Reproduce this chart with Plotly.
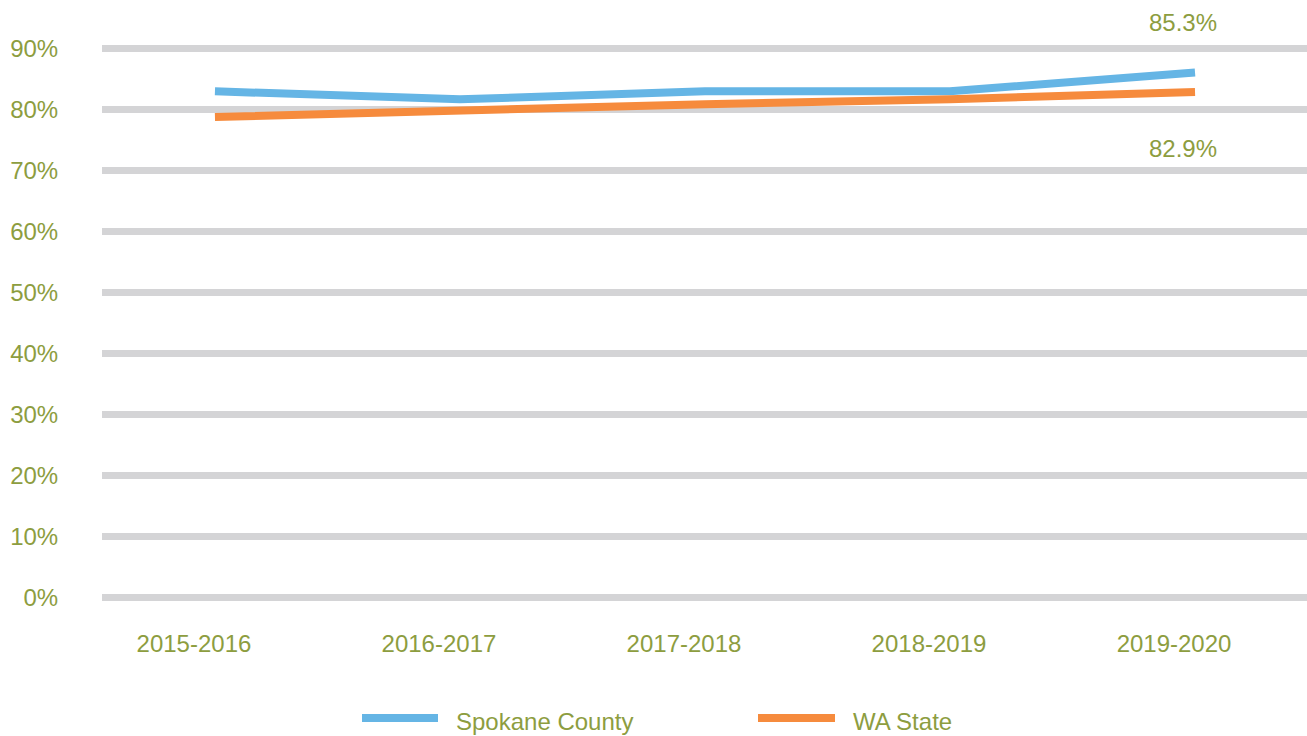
import plotly.graph_objects as go

years = ["2015-2016", "2016-2017", "2017-2018", "2018-2019", "2019-2020"]
spokane = [83.0, 81.7, 83.0, 83.0, 86.1]
wa_state = [78.8, 79.9, 80.9, 81.7, 82.9]
end_labels = ["85.3%", "82.9%"]
y_ticks = [0, 10, 20, 30, 40, 50, 60, 70, 80, 90]
y_tick_text = [f"{v}%" for v in y_ticks]

BLUE = "#65b5e5"
ORANGE = "#f68b3d"
OLIVE = "#8d9d3f"
GRID = "#d4d4d6"
FONT = "Arial, Liberation Sans, sans-serif"
FS = 24

xi = list(range(len(years)))

fig = go.Figure()
fig.add_trace(go.Scatter(x=xi, y=spokane, mode="lines", name="Spokane County",
                         line=dict(color=BLUE, width=8), showlegend=False))
fig.add_trace(go.Scatter(x=xi, y=wa_state, mode="lines", name="WA State",
                         line=dict(color=ORANGE, width=8), showlegend=False))

fig.add_annotation(x=xi[-1], y=spokane[-1], text=end_labels[0], showarrow=False,
                   yshift=50, xshift=-12, font=dict(size=FS, color=OLIVE, family=FONT))
fig.add_annotation(x=xi[-1], y=wa_state[-1], text=end_labels[1], showarrow=False,
                   yshift=-57, xshift=-12, font=dict(size=FS, color=OLIVE, family=FONT))

# manual legend
legend_items = [("Spokane County", BLUE, 362, 438, 454), ("WA State", ORANGE, 758, 835, 851)]
for name, col, x0, x1, tx in legend_items:
    fig.add_shape(type="line", xref="paper", yref="paper",
                  x0=(x0 - 102) / 1205, x1=(x1 - 102) / 1205,
                  y0=(610 - 718) / 590, y1=(610 - 718) / 590,
                  line=dict(color=col, width=8))
    fig.add_annotation(xref="paper", yref="paper", x=(tx - 102) / 1205, y=(610 - 721) / 590,
                       text=name, showarrow=False, xanchor="left", yanchor="middle",
                       font=dict(size=FS, color=OLIVE, family=FONT))

fig.update_layout(
    width=1307, height=736,
    margin=dict(l=102, r=0, t=20, b=126),
    paper_bgcolor="white", plot_bgcolor="white",
    font=dict(family=FONT, color=OLIVE, size=FS),
    hovermode=False,
)
fig.update_xaxes(
    range=[-0.461, 4.457], tickvals=xi, ticktext=years,
    showgrid=False, zeroline=False, showline=False,
    ticks="outside", ticklen=12, tickcolor="rgba(0,0,0,0)",
    ticklabelshift=-21, tickfont=dict(size=FS, color=OLIVE, family=FONT),
)
fig.update_yaxes(
    range=[-2.05, 94.7], tickvals=y_ticks, ticktext=y_tick_text,
    showgrid=True, gridcolor=GRID, gridwidth=7,
    zeroline=False, showline=False,
    ticks="outside", ticklen=38, tickcolor="rgba(0,0,0,0)",
    tickfont=dict(size=FS, color=OLIVE, family=FONT),
)

fig.write_html("out.html", config={"displayModeBar": False},
               post_script="document.body.style.margin='0';document.body.style.overflow='hidden';")
